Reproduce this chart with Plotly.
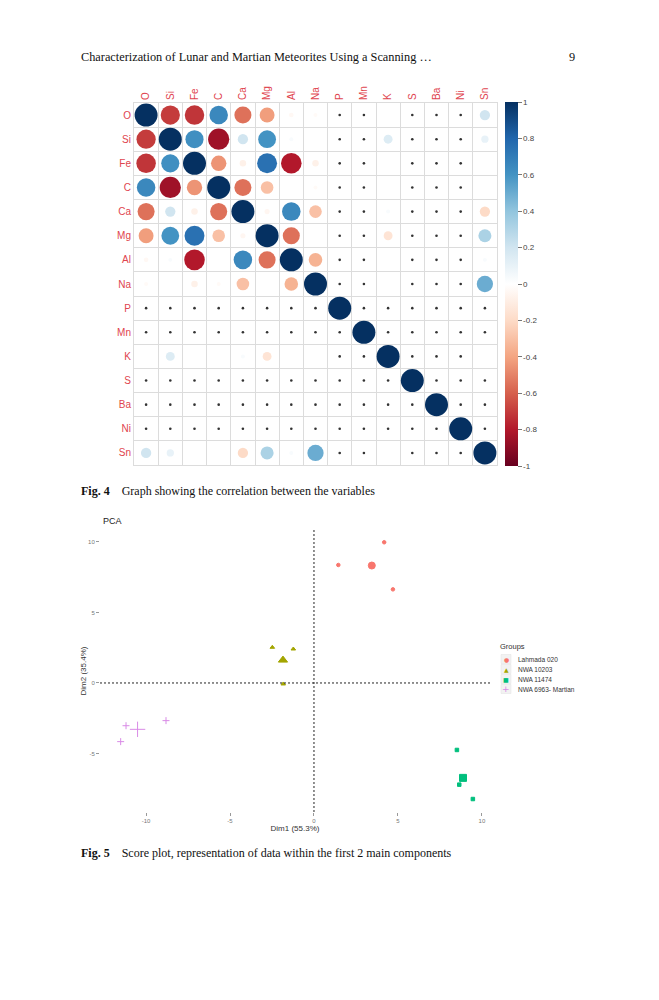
import numpy as np
import plotly.graph_objects as go

# ---- Fig. 4 : correlation matrix (None = NA, drawn as a small dot) ----
elements = ["O", "Si", "Fe", "C", "Ca", "Mg", "Al", "Na", "P", "Mn", "K", "S", "Ba", "Ni", "Sn"]
N = None
corr = [
    # O     Si     Fe     C      Ca     Mg     Al     Na    P  Mn  K      S  Ba Ni  Sn
    [1.00, -0.70, -0.72, 0.65, -0.55, -0.42, -0.04, -0.03, N, N, 0.00, N, N, N, 0.20],   # O
    [-0.70, 1.00, 0.62, -0.85, 0.20, 0.60, 0.03, 0.00, N, N, 0.15, N, N, N, 0.10],       # Si
    [-0.72, 0.62, 1.00, -0.45, -0.08, 0.75, -0.80, -0.08, N, N, 0.00, N, N, N, 0.00],    # Fe
    [0.65, -0.85, -0.45, 1.00, -0.55, -0.30, 0.00, -0.03, N, N, 0.00, N, N, N, 0.00],    # C
    [-0.55, 0.20, -0.08, -0.55, 1.00, -0.05, 0.65, -0.30, N, N, 0.03, N, N, N, -0.20],   # Ca
    [-0.42, 0.60, 0.75, -0.30, -0.05, 1.00, -0.55, 0.00, N, N, -0.15, N, N, N, 0.32],    # Mg
    [-0.04, 0.03, -0.80, 0.00, 0.65, -0.55, 1.00, -0.35, N, N, 0.00, N, N, N, 0.03],     # Al
    [-0.03, 0.00, -0.08, -0.03, -0.30, 0.00, -0.35, 1.00, N, N, 0.00, N, N, N, 0.50],    # Na
    [N, N, N, N, N, N, N, N, 1.00, N, N, N, N, N, N],                                    # P
    [N, N, N, N, N, N, N, N, N, 1.00, N, N, N, N, N],                                    # Mn
    [0.00, 0.15, 0.00, 0.00, 0.03, -0.15, 0.00, 0.00, N, N, 1.00, N, N, N, 0.00],        # K
    [N, N, N, N, N, N, N, N, N, N, N, 1.00, N, N, N],                                    # S
    [N, N, N, N, N, N, N, N, N, N, N, N, 1.00, N, N],                                    # Ba
    [N, N, N, N, N, N, N, N, N, N, N, N, N, 1.00, N],                                    # Ni
    [0.20, 0.10, 0.00, 0.00, -0.20, 0.32, 0.03, 0.50, N, N, 0.00, N, N, N, 1.00],        # Sn
]
cbar_vals = [1, 0.8, 0.6, 0.4, 0.2, 0, -0.2, -0.4, -0.6, -0.8, -1]
cbar_text = ["1", "0.8", "0.6", "0.4", "0.2", "0", "-0.2", "-0.4", "-0.6", "-0.8", "-1"]

# ---- Fig. 5 : PCA individuals ----
groups = ["Lahmada 020", "NWA 10203", "NWA 11474", "NWA 6963- Martian"]
lahmada_dim1 = [1.45, 4.18, 4.70]
lahmada_dim2 = [8.37, 9.98, 6.64]
nwa10203_dim1 = [-2.48, -1.23, -1.83]
nwa10203_dim2 = [2.53, 2.41, -0.07]
nwa11474_dim1 = [8.51, 8.65, 9.46]
nwa11474_dim2 = [-4.75, -7.21, -8.23]
nwa6963_dim1 = [-11.19, -8.81, -11.51]
nwa6963_dim2 = [-3.03, -2.67, -4.16]
pca_ticks = [-10, -5, 0, 5, 10]
pca_ticktext = ["-10", "-5", "0", "5", "10"]

# page is 659x1000; the html body adds an 8px margin on every side
OFF = 8
W, H = 659 - 2 * OFF, 1000 - 2 * OFF


def px(x):
    return (x - OFF) / W


def py(y):
    return 1 - (y - OFF) / H


SANS = "Liberation Sans, Arial, sans-serif"
SERIF = "Liberation Serif, Times New Roman, serif"

rdbu = ["#67001F", "#B2182B", "#D6604D", "#F4A582", "#FDDBC7", "#FFFFFF",
        "#D1E5F0", "#92C5DE", "#4393C3", "#2166AC", "#053061"]
colorscale = [[i / 10, c] for i, c in enumerate(rdbu)]

fig = go.Figure()

# circles
cx, cy, cv, na_x, na_y = [], [], [], [], []
for i, row in enumerate(corr):
    for j, v in enumerate(row):
        if v is None:
            na_x.append(j)
            na_y.append(i)
        else:
            cx.append(j)
            cy.append(i)
            cv.append(v)
cv = np.array(cv)

fig.add_trace(go.Scatter(
    x=cx, y=cy, mode="markers", xaxis="x", yaxis="y", showlegend=False,
    hovertemplate="%{marker.color:.2f}<extra></extra>",
    marker=dict(size=23 * np.sqrt(np.abs(cv)), color=cv, cmin=-1, cmax=1,
                colorscale=colorscale, opacity=1, line=dict(width=0),
                colorbar=dict(x=px(505), xanchor="left", xpad=0, ypad=0,
                              y=py(284), yanchor="middle", len=364 / H,
                              thickness=13, outlinewidth=0,
                              tickvals=cbar_vals, ticktext=cbar_text,
                              ticks="outside", ticklen=4, tickcolor="#777",
                              tickfont=dict(size=8, color="#444", family=SANS)))
))
fig.add_trace(go.Scatter(
    x=na_x, y=na_y, mode="markers", xaxis="x", yaxis="y", showlegend=False,
    hoverinfo="skip", marker=dict(size=2.6, color="#333", opacity=1)
))

# PCA
pca_sets = [
    (lahmada_dim1, lahmada_dim2, "#F8766D", "circle", 3.5, 7, "●"),
    (nwa10203_dim1, nwa10203_dim2, "#A3A500", "triangle-up", 4, 8, "▲"),
    (nwa11474_dim1, nwa11474_dim2, "#00BF7D", "square", 3.5, 7, "■"),
    (nwa6963_dim1, nwa6963_dim2, "#D98BE6", "cross-thin-open", 5, 11, "+"),
]
for name, (d1, d2, col, sym, s_ind, s_mean, glyph) in zip(groups, pca_sets):
    fig.add_trace(go.Scatter(
        x=d1, y=d2, mode="markers", xaxis="x2", yaxis="y2", name=name,
        showlegend=False,
        marker=dict(symbol=sym, size=s_ind, color=col, opacity=1,
                    line=dict(color=col, width=1))
    ))
    fig.add_trace(go.Scatter(
        x=[np.mean(d1)], y=[np.mean(d2)], mode="markers", xaxis="x2", yaxis="y2",
        name=name + " (mean)", showlegend=False,
        marker=dict(symbol=sym, size=s_mean, color=col, opacity=1,
                    line=dict(color=col, width=1))
    ))

fig.add_shape(type="line", xref="x2", yref="y2 domain", x0=0, x1=0, y0=0, y1=1,
              line=dict(color="#222", width=1, dash="2px,2px"))
fig.add_shape(type="line", xref="x2 domain", yref="y2", x0=0, x1=1, y0=0, y1=0,
              line=dict(color="#222", width=1, dash="2px,2px"))

grid_pos = [k - 0.5 for k in range(16)]
lab_font = dict(size=10, color="#e0444e", family=SANS)

fig.update_layout(
    width=W, height=H, margin=dict(l=0, r=0, t=0, b=0),
    paper_bgcolor="white", plot_bgcolor="white",
    font=dict(family=SANS), showlegend=False,
    xaxis=dict(domain=[px(134), px(497)], range=[-0.5, 14.5], side="top",
               tickvals=list(range(15)), ticktext=elements, tickangle=-90,
               tickfont=lab_font, showgrid=False, zeroline=False,
               showline=True, mirror=True, linecolor="#dcdcdc", linewidth=1,
               minor=dict(tickvals=grid_pos, showgrid=True, gridcolor="#dcdcdc",
                          gridwidth=1, ticks=""),
               anchor="y", fixedrange=True),
    yaxis=dict(domain=[py(465), py(103)], range=[14.5, -0.5],
               tickvals=list(range(15)), ticktext=elements,
               tickfont=lab_font, showgrid=False, zeroline=False,
               showline=True, mirror=True, linecolor="#dcdcdc", linewidth=1,
               minor=dict(tickvals=grid_pos, showgrid=True, gridcolor="#dcdcdc",
                          gridwidth=1, ticks=""),
               anchor="x", fixedrange=True),
    xaxis2=dict(domain=[px(100), px(490)], range=[-12.74, 10.48],
                tickvals=pca_ticks, ticktext=pca_ticktext,
                ticks="outside", ticklen=3, tickcolor="#999",
                tickfont=dict(size=6, color="#777"), showgrid=False,
                zeroline=False, showline=False, anchor="y2",
                title=dict(text="Dim1 (55.3%)", font=dict(size=8, color="#333"),
                           standoff=2)),
    yaxis2=dict(domain=[py(812), py(530)], range=[-9.15, 10.85],
                tickvals=pca_ticks[1:], ticktext=pca_ticktext[1:],
                ticks="outside", ticklen=3, tickcolor="#999",
                tickfont=dict(size=6, color="#777"), showgrid=False,
                zeroline=False, showline=False, anchor="x2",
                title=dict(text="Dim2 (35.4%)", font=dict(size=8, color="#333"),
                           standoff=0)),
)

annots = [
    dict(x=px(79), y=py(57), text="Characterization of Lunar and Martian Meteorites Using a Scanning …",
         font=dict(family=SERIF, size=12.3, color="#111")),
    dict(x=px(567), y=py(57), text="9", font=dict(family=SERIF, size=12.3, color="#111")),
    dict(x=px(79), y=py(491),
         text="<b>Fig. 4</b>\u2003Graph showing the correlation between the variables",
         font=dict(family=SERIF, size=12, color="#111")),
    dict(x=px(79), y=py(853),
         text="<b>Fig. 5</b>\u2003Score plot, representation of data within the first 2 main components",
         font=dict(family=SERIF, size=12, color="#111")),
    dict(x=px(101), y=py(521), text="PCA",
         font=dict(family=SANS, size=9, color="#222")),
    dict(x=px(498), y=py(646), text="Groups",
         font=dict(family=SANS, size=7.5, color="#333")),
]
# legend (ggplot style keys with a light grey key box)
for k, (name, s) in enumerate(zip(groups, pca_sets)):
    yc = 659 + 10 * k
    fig.add_shape(type="rect", xref="paper", yref="paper",
                  x0=px(501), x1=px(511), y0=py(yc + 4.5), y1=py(yc - 4.5),
                  fillcolor="#f2f2f2", line=dict(color="#e0e0e0", width=0.5))
    annots.append(dict(x=px(506), y=py(yc), text=s[6], xanchor="center",
                       font=dict(family="DejaVu Sans", size=6 if s[6] != "+" else 9,
                                 color=s[2])))
    annots.append(dict(x=px(516), y=py(yc), text=name,
                       font=dict(family=SANS, size=6.5, color="#333")))

for a in annots:
    a.setdefault("xanchor", "left")
    fig.add_annotation(xref="paper", yref="paper", yanchor="middle",
                       showarrow=False, **a)

fig.write_html("out.html")
